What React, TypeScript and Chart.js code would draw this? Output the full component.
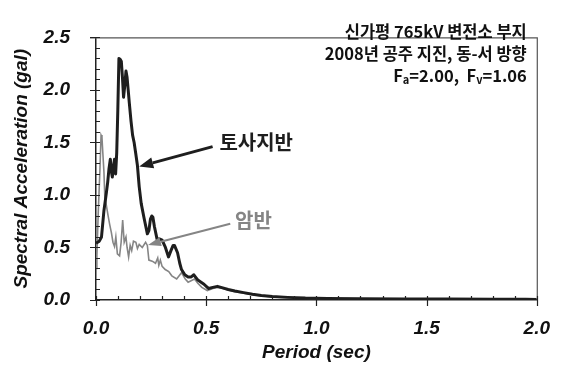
import { useEffect, useRef } from "react";
import { Chart, registerables } from "chart.js";

Chart.register(...registerables);

// Soil site (토사지반) response spectrum
const soilPeriods = [0, 0.015, 0.025, 0.036, 0.047, 0.053, 0.059, 0.065, 0.07, 0.074, 0.08, 0.084, 0.089, 0.094, 0.099, 0.104, 0.11, 0.115, 0.12, 0.125, 0.131, 0.136, 0.141, 0.146, 0.151, 0.159, 0.166, 0.173, 0.18, 0.188, 0.196, 0.205, 0.218, 0.233, 0.24, 0.247, 0.253, 0.258, 0.265, 0.277, 0.29, 0.3, 0.315, 0.329, 0.34, 0.35, 0.356, 0.37, 0.38, 0.388, 0.403, 0.418, 0.432, 0.444, 0.462, 0.49, 0.51, 0.53, 0.551, 0.575, 0.6, 0.63, 0.67, 0.71, 0.75, 0.8, 0.87, 0.95, 1.05, 1.2, 1.4, 1.6, 1.8, 1.95, 2.0];
const soilAccel = [0.54, 0.56, 0.6, 0.85, 1.02, 1.12, 1.25, 1.34, 1.22, 1.17, 1.28, 1.34, 1.2, 1.4, 1.81, 2.3, 2.29, 2.27, 2.12, 1.93, 2.05, 2.18, 2.12, 2.0, 1.88, 1.7, 1.57, 1.5, 1.4, 1.28, 1.08, 0.92, 0.78, 0.63, 0.66, 0.77, 0.8, 0.79, 0.7, 0.58, 0.58, 0.57, 0.5, 0.41, 0.47, 0.52, 0.52, 0.45, 0.35, 0.29, 0.24, 0.22, 0.22, 0.24, 0.19, 0.15, 0.11, 0.12, 0.13, 0.115, 0.1, 0.085, 0.07, 0.055, 0.042, 0.033, 0.025, 0.018, 0.014, 0.012, 0.01, 0.009, 0.008, 0.007, 0.005];

// Rock site (암반) response spectrum
const rockPeriods = [0, 0.004, 0.01, 0.018, 0.023, 0.027, 0.031, 0.036, 0.04, 0.047, 0.055, 0.062, 0.07, 0.077, 0.084, 0.09, 0.097, 0.107, 0.114, 0.121, 0.128, 0.136, 0.141, 0.148, 0.155, 0.162, 0.17, 0.181, 0.188, 0.196, 0.21, 0.225, 0.233, 0.24, 0.255, 0.27, 0.28, 0.285, 0.292, 0.3, 0.314, 0.33, 0.344, 0.366, 0.388, 0.405, 0.418, 0.447, 0.462, 0.48, 0.505, 0.53, 0.551, 0.575, 0.6, 0.63, 0.67, 0.71, 0.75, 0.8, 0.87, 0.95, 1.05, 1.2, 1.4, 1.6, 1.8, 1.95];
const rockAccel = [0.3, 0.42, 0.82, 1.25, 1.57, 1.55, 1.4, 1.22, 0.98, 0.9, 0.8, 0.72, 0.64, 0.55, 0.51, 0.6, 0.44, 0.42, 0.55, 0.76, 0.55, 0.6, 0.5, 0.41, 0.52, 0.47, 0.56, 0.55, 0.49, 0.53, 0.5, 0.55, 0.52, 0.38, 0.37, 0.35, 0.4, 0.33, 0.38, 0.32, 0.29, 0.27, 0.23, 0.2, 0.26, 0.2, 0.17, 0.2, 0.16, 0.12, 0.09, 0.11, 0.12, 0.11, 0.095, 0.08, 0.065, 0.05, 0.04, 0.03, 0.022, 0.016, 0.012, 0.01, 0.009, 0.008, 0.007, 0.006];

const xMajorTicks = [0, 0.5, 1.0, 1.5, 2.0];
const yMajorTicks = [0, 0.5, 1.0, 1.5, 2.0, 2.5];
const xTitle = "Period (sec)";
const yTitle = "Spectral Acceleration (gal)";
const infoLines = ["신가평 765kV 변전소 부지", "2008년 공주 지진, 동-서 방향"];
const factorA = "2.00";
const factorV = "1.06";
const soilLabel = "토사지반";
const rockLabel = "암반";
// annotation arrows in data units: [tailX, tailY, tipX, tipY, labelX, labelY]
const soilArrow = [0.529, 1.46, 0.196, 1.27, 0.56, 1.5];
const rockArrow = [0.609, 0.726, 0.236, 0.524, 0.631, 0.755];

const SOIL_COLOR = "#1e1e1e";
const ROCK_COLOR = "#858585";
const AXIS_FONT = "'Liberation Sans', Arial, sans-serif";
const KR_FONT = "'Noto Sans CJK KR', 'Noto Sans', sans-serif";

function drawArrow(ctx: CanvasRenderingContext2D, x1: number, y1: number, x2: number, y2: number, color: string, width: number, headLen: number, headW: number) {
  const ang = Math.atan2(y2 - y1, x2 - x1);
  const bx = x2 - Math.cos(ang) * headLen;
  const by = y2 - Math.sin(ang) * headLen;
  ctx.strokeStyle = color;
  ctx.fillStyle = color;
  ctx.lineWidth = width;
  ctx.beginPath();
  ctx.moveTo(x1, y1);
  ctx.lineTo(bx, by);
  ctx.stroke();
  ctx.beginPath();
  ctx.moveTo(x2, y2);
  ctx.lineTo(bx + Math.sin(ang) * headW, by - Math.cos(ang) * headW);
  ctx.lineTo(bx - Math.sin(ang) * headW, by + Math.cos(ang) * headW);
  ctx.closePath();
  ctx.fill();
}

const decorPlugin = {
  id: "decor",
  afterDraw(chart: any) {
    const { ctx, chartArea: ca, scales } = chart;
    const xs = scales.x;
    const ys = scales.y;
    ctx.save();
    // frame (top and right)
    ctx.strokeStyle = "#555";
    ctx.lineWidth = 1.2;
    ctx.beginPath();
    ctx.moveTo(ca.left - 6, ca.top + 0.5);
    ctx.lineTo(ca.right + 0.5, ca.top + 0.5);
    ctx.lineTo(ca.right + 0.5, ca.bottom);
    ctx.stroke();

    // ticks
    ctx.strokeStyle = "#222";
    ctx.lineWidth = 1.2;
    ctx.beginPath();
    for (let i = 0; i <= 20; i++) {
      const v = i / 10;
      const px = Math.round(xs.getPixelForValue(v)) + 0.5;
      const major = i % 5 === 0;
      ctx.moveTo(px, ca.bottom - 4);
      ctx.lineTo(px, ca.bottom + (major ? 6 : 0));
    }
    for (let i = 0; i <= 25; i++) {
      const v = i / 10;
      const py = Math.round(ys.getPixelForValue(v)) + 0.5;
      const major = i % 5 === 0;
      ctx.moveTo(ca.left - (major ? 6 : 0), py);
      ctx.lineTo(ca.left + 4, py);
    }
    ctx.stroke();

    // axis titles
    ctx.fillStyle = "#111";
    ctx.font = `italic bold 19px ${AXIS_FONT}`;
    ctx.textAlign = "center";
    ctx.textBaseline = "middle";
    ctx.fillText(xTitle, (ca.left + ca.right) / 2, 353);
    ctx.save();
    ctx.translate(22, (ca.top + ca.bottom) / 2);
    ctx.rotate(-Math.PI / 2);
    ctx.fillText(yTitle, 0, 0);
    ctx.restore();

    // info text block
    const rightX = ca.right - 10;
    const big = `bold 16.5px ${KR_FONT}`;
    const small = `bold 11px ${KR_FONT}`;
    ctx.font = big;
    ctx.textAlign = "right";
    ctx.fillStyle = "#111";
    ctx.fillText(infoLines[0], rightX, 32);
    ctx.fillText(infoLines[1], rightX, 54);
    // third line with subscripts
    const parts: [string, string, number][] = [
      ["F", big, 0],
      ["a", small, 4],
      ["=" + factorA + ",  F", big, 0],
      ["v", small, 4],
      ["=" + factorV, big, 0],
    ];
    let total = 0;
    for (const [t, f] of parts) {
      ctx.font = f;
      total += ctx.measureText(t).width;
    }
    let cx = rightX - total;
    ctx.textAlign = "left";
    for (const [t, f, dy] of parts) {
      ctx.font = f;
      ctx.fillText(t, cx, 76 + dy);
      cx += ctx.measureText(t).width;
    }

    // arrows and labels
    const sa = soilArrow.map((v, i) => (i % 2 === 0 ? xs.getPixelForValue(v) : ys.getPixelForValue(v)));
    drawArrow(ctx, sa[0], sa[1], sa[2], sa[3], SOIL_COLOR, 3, 14, 5.5);
    ctx.fillStyle = SOIL_COLOR;
    ctx.font = `bold 20px ${KR_FONT}`;
    ctx.textAlign = "left";
    ctx.textBaseline = "middle";
    ctx.fillText(soilLabel, sa[4], sa[5]);

    const ra = rockArrow.map((v, i) => (i % 2 === 0 ? xs.getPixelForValue(v) : ys.getPixelForValue(v)));
    drawArrow(ctx, ra[0], ra[1], ra[2], ra[3], ROCK_COLOR, 2, 13, 4.5);
    ctx.fillStyle = ROCK_COLOR;
    ctx.font = `bold 20px ${KR_FONT}`;
    ctx.fillText(rockLabel, ra[4], ra[5]);

    ctx.restore();
  },
};

export default function App() {
  const canvasRef = useRef<HTMLCanvasElement | null>(null);

  useEffect(() => {
    const canvas = canvasRef.current;
    if (!canvas) return;
    const soilData = soilPeriods.map((p, i) => ({ x: p, y: soilAccel[i] }));
    const rockData = rockPeriods.map((p, i) => ({ x: p, y: rockAccel[i] }));
    const chart = new Chart(canvas, {
      type: "line",
      data: {
        datasets: [
          {
            label: soilLabel,
            data: soilData,
            borderColor: SOIL_COLOR,
            borderWidth: 3,
            pointRadius: 0,
            tension: 0,
            borderJoinStyle: "round",
            order: 0,
          },
          {
            label: rockLabel,
            data: rockData,
            borderColor: ROCK_COLOR,
            borderWidth: 1.6,
            pointRadius: 0,
            tension: 0,
            order: 1,
          },
        ],
      },
      options: {
        animation: false,
        responsive: false,
        devicePixelRatio: 1,
        layout: { padding: { left: 0, right: 21, top: 14, bottom: 0 } },
        plugins: { legend: { display: false }, tooltip: { enabled: false } },
        scales: {
          x: {
            type: "linear",
            min: 0,
            max: 2,
            afterBuildTicks: (scale: any) => {
              scale.ticks = xMajorTicks.map((v) => ({ value: v }));
            },
            afterFit: (scale: any) => {
              scale.height = 72;
            },
            ticks: {
              color: "#111",
              font: { family: AXIS_FONT, size: 19, style: "italic", weight: "bold" },
              padding: 17,
              maxRotation: 0,
              callback: (v: any) => Number(v).toFixed(1),
            },
            grid: { display: false, drawTicks: false },
            border: { display: true, color: "#222", width: 1.5 },
          },
          y: {
            type: "linear",
            min: 0,
            max: 2.5,
            afterBuildTicks: (scale: any) => {
              scale.ticks = yMajorTicks.map((v) => ({ value: v }));
            },
            afterFit: (scale: any) => {
              scale.width = 96;
            },
            ticks: {
              color: "#111",
              font: { family: AXIS_FONT, size: 19, style: "italic", weight: "bold" },
              padding: 26,
              callback: (v: any) => Number(v).toFixed(1),
            },
            grid: { display: false, drawTicks: false },
            border: { display: true, color: "#222", width: 1.5 },
          },
        },
      },
      plugins: [decorPlugin],
    } as any);
    return () => chart.destroy();
  }, []);

  return (
    <div style={{ position: "absolute", left: 0, top: 0, width: 567, height: 372, background: "#fff" }}>
      <canvas ref={canvasRef} width={567} height={372} style={{ width: 567, height: 372, display: "block" }} />
    </div>
  );
}
